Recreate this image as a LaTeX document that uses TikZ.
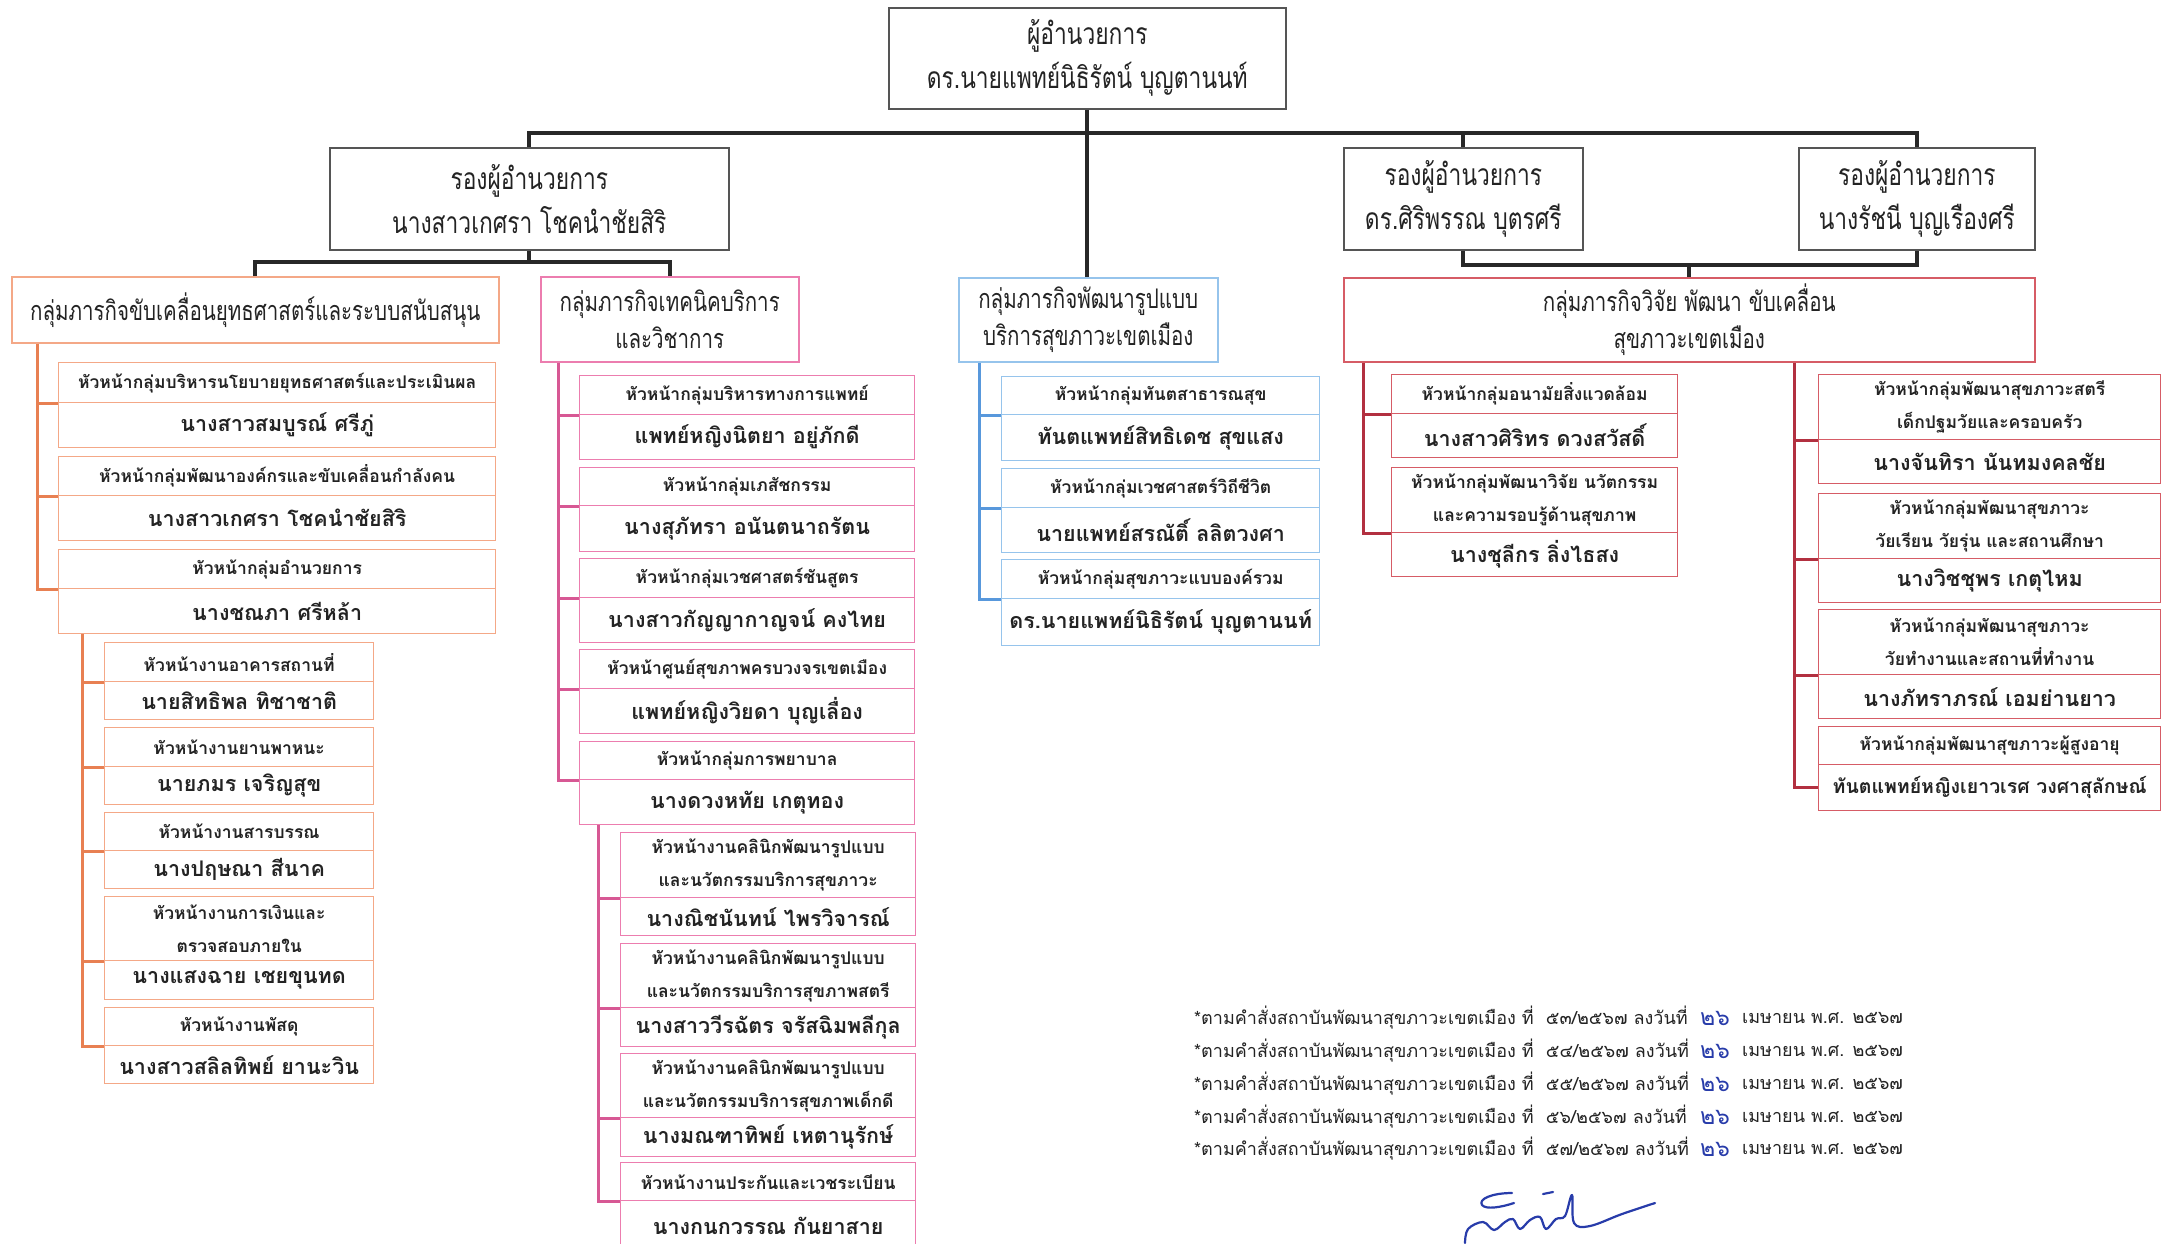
\documentclass[tikz,border=0pt]{standalone}
\usepackage{fontspec}
\setmainfont[Script=Thai]{Loma}
\newfontfamily\thaicond[Script=Thai,FakeStretch=0.76]{Loma}
\definecolor{txtc}{RGB}{35,35,35}
\definecolor{grayB}{RGB}{85,85,85}
\definecolor{lineK}{RGB}{40,40,40}
\definecolor{orangeB}{RGB}{244,168,135}
\definecolor{orangeL}{RGB}{232,128,82}
\definecolor{pinkB}{RGB}{236,125,175}
\definecolor{pinkL}{RGB}{215,88,148}
\definecolor{blueB}{RGB}{150,196,236}
\definecolor{blueL}{RGB}{88,152,220}
\definecolor{redB}{RGB}{214,92,102}
\definecolor{redL}{RGB}{178,48,64}
\definecolor{sigblue}{RGB}{40,60,170}
\newcommand\pairbox[9]{%
  \pgfmathsetmacro\pbw{#4-#3}\pgfmathsetmacro\pbh{#6-#5}\pgfmathsetmacro\pbn{#7-#6}%
  \node[#2,hdr,anchor=north west,minimum width=\pbw pt,minimum height=\pbh pt] (#1h) at (#3,#5) {#8};
  \node[#2,nm,anchor=north west,minimum width=\pbw pt,minimum height=\pbn pt] (#1n) at (#3,#6) {#9};}
\newcommand\noteline[3]{%
  \node[note,anchor=west] (#1a) at (1194,#2) {*ตามคำสั่งสถาบันพัฒนาสุขภาวะเขตเมือง ที่\ \ #3 ลงวันที่};
  \node[note,text=sigblue,font=\fontsize{23}{24}\selectfont] (#1b) at (1715,#2) {๒๖};
  \node[note,anchor=west] (#1c) at (1742,#2) {เมษายน พ.ศ. ๒๕๖๗};}
\begin{document}
\begin{tikzpicture}[x=1pt,y=-1pt,
  bigbox/.style={draw=grayB,line width=1.6pt,fill=white,inner sep=0,align=center,text=txtc,
    font=\thaicond\fontsize{30}{44}\selectfont},
  grp/.style={fill=white,inner sep=0,align=center,line width=1.5pt,text=txtc,
    font=\thaicond\fontsize{27}{37}\selectfont},
  hdr/.style={inner sep=0,align=center,line width=1.3pt,text=txtc,
    font=\bfseries\fontsize{17.5}{33}\selectfont},
  nm/.style={inner sep=0,align=center,line width=1.3pt,text=txtc,
    font=\bfseries\fontsize{21.5}{26}\selectfont},
  obox/.style={draw=orangeB},
  pbox/.style={draw=pinkB},
  bbox/.style={draw=blueB},
  rbox/.style={draw=redB},
  kline/.style={draw=lineK,line width=4pt},
  oline/.style={draw=orangeL,line width=3pt},
  pline/.style={draw=pinkL,line width=3pt},
  bline/.style={draw=blueL,line width=3pt},
  rline/.style={draw=redL,line width=3pt},
  note/.style={inner sep=0,text=txtc,font=\fontsize{18}{20}\selectfont},
  sig/.style={draw=sigblue,line width=2.2pt,line cap=round,line join=round}]
\useasboundingbox (0,0) rectangle (2165,1243);
\clip (0,0) rectangle (2165,1243);
\fill[white] (0,0) rectangle (2165,1243);

% top level
\node[bigbox,anchor=north west,minimum width=397pt,minimum height=101pt] (dir) at (888,7) {ผู้อำนวยการ\\ดร.นายแพทย์นิธิรัตน์ บุญตานนท์};
\node[bigbox,anchor=north west,minimum width=399pt,minimum height=102pt] (vp1) at (329,147) {รองผู้อำนวยการ\\นางสาวเกศรา โชคนำชัยสิริ};
\node[bigbox,anchor=north west,minimum width=239pt,minimum height=102pt] (vp2) at (1343,147) {รองผู้อำนวยการ\\ดร.ศิริพรรณ บุตรศรี};
\node[bigbox,anchor=north west,minimum width=236pt,minimum height=102pt] (vp3) at (1798,147) {รองผู้อำนวยการ\\นางรัชนี บุญเรืองศรี};

% groups
\node[grp,draw=orangeB,anchor=north west,minimum width=487pt,minimum height=66pt] (og) at (11,276) {กลุ่มภารกิจขับเคลื่อนยุทธศาสตร์และระบบสนับสนุน};
\node[grp,draw=pinkB,anchor=north west,minimum width=258pt,minimum height=85pt] (pg) at (540,276) {กลุ่มภารกิจเทคนิคบริการ\\และวิชาการ};
\node[grp,draw=blueB,anchor=north west,minimum width=259pt,minimum height=84pt] (bg) at (958,277) {กลุ่มภารกิจพัฒนารูปแบบ\\บริการสุขภาวะเขตเมือง};
\node[grp,draw=redB,anchor=north west,minimum width=691pt,minimum height=84pt] (rg) at (1343,277) {กลุ่มภารกิจวิจัย พัฒนา ขับเคลื่อน\\สุขภาวะเขตเมือง};

% black connectors
\draw[kline] (dir.south) -- (dir.south |- bg.north);
\draw[kline] (vp1.north) -- ++(0,-14) -| (vp3.north);
\draw[kline] (vp2.north) -- ++(0,-14);
\draw[kline] (og.north) -- ++(0,-14) -| (pg.north);
\draw[kline] (vp1.south) -- ++(0,13);
\draw[kline] (vp2.south) -- ++(0,14) -| (vp3.south);
\draw[kline] (rg.north) -- ++(0,-14);

% orange column
\pairbox{o1}{obox}{58}{495}{362}{402}{447}{หัวหน้ากลุ่มบริหารนโยบายยุทธศาสตร์และประเมินผล}{นางสาวสมบูรณ์ ศรีภู่}
\pairbox{o2}{obox}{58}{495}{456}{495}{540}{หัวหน้ากลุ่มพัฒนาองค์กรและขับเคลื่อนกำลังคน}{นางสาวเกศรา โชคนำชัยสิริ}
\pairbox{o3}{obox}{58}{495}{549}{588}{633}{หัวหน้ากลุ่มอำนวยการ}{นางชณภา ศรีหล้า}
\pairbox{oa}{obox}{104}{373}{642}{681}{719}{หัวหน้างานอาคารสถานที่}{นายสิทธิพล ทิชาชาติ}
\pairbox{ob}{obox}{104}{373}{727}{766}{804}{หัวหน้างานยานพาหนะ}{นายภมร เจริญสุข}
\pairbox{oc}{obox}{104}{373}{812}{850}{888}{หัวหน้างานสารบรรณ}{นางปฤษณา สีนาค}
\pairbox{od}{obox}{104}{373}{896}{960}{999}{หัวหน้างานการเงินและ\\ตรวจสอบภายใน}{นางแสงฉาย เชยขุนทด}
\pairbox{oe}{obox}{104}{373}{1007}{1045}{1083}{หัวหน้างานพัสดุ}{นางสาวสลิลทิพย์ ยานะวิน}
\coordinate (oT) at (37,0);
\coordinate (oS) at (82,0);
\draw[oline] (og.south -| oT) |- (o3h.south west);
\draw[oline] (oT |- o1h.south west) -- (o1h.south west);
\draw[oline] (oT |- o2h.south west) -- (o2h.south west);
\draw[oline] (o3n.south -| oS) |- (oeh.south west);
\draw[oline] (oS |- oah.south west) -- (oah.south west);
\draw[oline] (oS |- obh.south west) -- (obh.south west);
\draw[oline] (oS |- och.south west) -- (och.south west);
\draw[oline] (oS |- odh.south west) -- (odh.south west);

% pink column
\pairbox{p1}{pbox}{579}{914}{375}{414}{459}{หัวหน้ากลุ่มบริหารทางการแพทย์}{แพทย์หญิงนิตยา อยู่ภักดี}
\pairbox{p2}{pbox}{579}{914}{467}{505}{551}{หัวหน้ากลุ่มเภสัชกรรม}{นางสุภัทรา อนันตนาถรัตน}
\pairbox{p3}{pbox}{579}{914}{558}{597}{642}{หัวหน้ากลุ่มเวชศาสตร์ชันสูตร}{นางสาวกัญญากาญจน์ คงไทย}
\pairbox{p4}{pbox}{579}{914}{649}{688}{733}{หัวหน้าศูนย์สุขภาพครบวงจรเขตเมือง}{แพทย์หญิงวิยดา บุญเลื่อง}
\pairbox{p5}{pbox}{579}{914}{741}{779}{824}{หัวหน้ากลุ่มการพยาบาล}{นางดวงหทัย เกตุทอง}
\pairbox{pa}{pbox}{620}{915}{832}{897}{935}{หัวหน้างานคลินิกพัฒนารูปแบบ\\และนวัตกรรมบริการสุขภาวะ}{นางณิชนันทน์ ไพรวิจารณ์}
\pairbox{pb}{pbox}{620}{915}{943}{1007}{1046}{หัวหน้างานคลินิกพัฒนารูปแบบ\\และนวัตกรรมบริการสุขภาพสตรี}{นางสาววีรฉัตร จรัสฉิมพลีกุล}
\pairbox{pc}{pbox}{620}{915}{1053}{1117}{1156}{หัวหน้างานคลินิกพัฒนารูปแบบ\\และนวัตกรรมบริการสุขภาพเด็กดี}{นางมณฑาทิพย์ เหตานุรักษ์}
\pairbox{pd}{pbox}{620}{915}{1162}{1200}{1250}{หัวหน้างานประกันและเวชระเบียน}{นางกนกวรรณ กันยาสาย}
\coordinate (pT) at (558,0);
\coordinate (pS) at (598,0);
\draw[pline] (pg.south -| pT) |- (p5h.south west);
\draw[pline] (pT |- p1h.south west) -- (p1h.south west);
\draw[pline] (pT |- p2h.south west) -- (p2h.south west);
\draw[pline] (pT |- p3h.south west) -- (p3h.south west);
\draw[pline] (pT |- p4h.south west) -- (p4h.south west);
\draw[pline] (p5n.south -| pS) |- (pdh.south west);
\draw[pline] (pS |- pah.south west) -- (pah.south west);
\draw[pline] (pS |- pbh.south west) -- (pbh.south west);
\draw[pline] (pS |- pch.south west) -- (pch.south west);

% blue column
\pairbox{b1}{bbox}{1001}{1319}{376}{414}{460}{หัวหน้ากลุ่มทันตสาธารณสุข}{ทันตแพทย์สิทธิเดช สุขแสง}
\pairbox{b2}{bbox}{1001}{1319}{468}{507}{552}{หัวหน้ากลุ่มเวชศาสตร์วิถีชีวิต}{นายแพทย์สรณัติ์ ลลิตวงศา}
\pairbox{b3}{bbox}{1001}{1319}{559}{598}{645}{หัวหน้ากลุ่มสุขภาวะแบบองค์รวม}{ดร.นายแพทย์นิธิรัตน์ บุญตานนท์}
\coordinate (bT) at (979,0);
\draw[bline] (bg.south -| bT) |- (b3h.south west);
\draw[bline] (bT |- b1h.south west) -- (b1h.south west);
\draw[bline] (bT |- b2h.south west) -- (b2h.south west);

% red columns
\pairbox{r1}{rbox}{1391}{1677}{374}{413}{457}{หัวหน้ากลุ่มอนามัยสิ่งแวดล้อม}{นางสาวศิริทร ดวงสวัสดิ์}
\pairbox{r2}{rbox}{1391}{1677}{467}{532}{576}{หัวหน้ากลุ่มพัฒนาวิจัย นวัตกรรม\\และความรอบรู้ด้านสุขภาพ}{นางชุลีกร ลิ่งไธสง}
\pairbox{q1}{rbox}{1818}{2160}{374}{439}{483}{หัวหน้ากลุ่มพัฒนาสุขภาวะสตรี\\เด็กปฐมวัยและครอบครัว}{นางจันทิรา นันทมงคลชัย}
\pairbox{q2}{rbox}{1818}{2160}{493}{558}{602}{หัวหน้ากลุ่มพัฒนาสุขภาวะ\\วัยเรียน วัยรุ่น และสถานศึกษา}{นางวิชชุพร เกตุไหม}
\pairbox{q3}{rbox}{1818}{2160}{609}{674}{718}{หัวหน้ากลุ่มพัฒนาสุขภาวะ\\วัยทำงานและสถานที่ทำงาน}{นางภัทราภรณ์ เอมย่านยาว}
\pairbox{q4}{rbox}{1818}{2160}{726}{764}{810}{หัวหน้ากลุ่มพัฒนาสุขภาวะผู้สูงอายุ}{\fontsize{19.5}{24}\selectfont ทันตแพทย์หญิงเยาวเรศ วงศาสุลักษณ์}
\coordinate (rT) at (1363,0);
\coordinate (qT) at (1794,0);
\draw[rline] (rg.south -| rT) |- (r2h.south west);
\draw[rline] (rT |- r1h.south west) -- (r1h.south west);
\draw[rline] (rg.south -| qT) |- (q4n.west);
\draw[rline] (qT |- q1h.south west) -- (q1h.south west);
\draw[rline] (qT |- q2h.south west) -- (q2h.south west);
\draw[rline] (qT |- q3h.south west) -- (q3h.south west);

% notes
\noteline{n1}{1018}{๕๓/๒๕๖๗}
\noteline{n2}{1051}{๕๔/๒๕๖๗}
\noteline{n3}{1084}{๕๕/๒๕๖๗}
\noteline{n4}{1117}{๕๖/๒๕๖๗}
\noteline{n5}{1149}{๕๗/๒๕๖๗}

% signature
\draw[sig] (1512,1193) .. controls (1492,1193) and (1478,1199) .. (1482,1205) .. controls (1486,1210) and (1502,1207) .. (1514,1203);
\draw[sig] (1543,1194) -- (1553,1192);
\draw[sig] plot[smooth,tension=0.6] coordinates {(1465,1243) (1468,1229) (1483,1222) (1494,1230) (1505,1222) (1513,1219) (1520,1229) (1530,1220) (1540,1217) (1546,1229) (1556,1219) (1565,1216) (1572,1195) (1574,1223) (1590,1226) (1622,1214) (1655,1203)};
\end{tikzpicture}
\end{document}
